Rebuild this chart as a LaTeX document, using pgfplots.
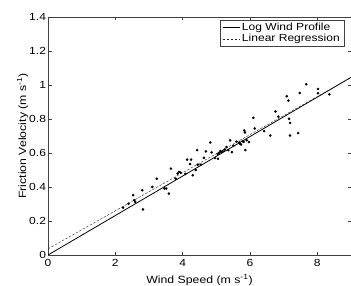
\documentclass[border=0pt]{standalone}
\usepackage{fontspec}
\setmainfont{Liberation Sans}[FakeStretch=1.17]
\usepackage{pgfplots}
\pgfplotsset{compat=1.18}
\begin{document}
\begin{tikzpicture}
\begin{axis}[
  scale only axis,
  width=303pt, height=238pt,
  xmin=0, xmax=9, ymin=0, ymax=1.4,
  xtick={0,2,4,6,8},
  ytick={0,0.2,0.4,0.6,0.8,1,1.2,1.4},
  tick align=inside,
  major tick length=3.5pt,
  axis line style={line width=0.5pt, black!75},
  tick style={line width=0.4pt, black!75},
  /pgf/number format/assume math mode=true,
  ticklabel style={font=\fontsize{10.3}{12}\selectfont},
  yticklabel style={xshift=1.5pt},
  xticklabel style={yshift=-0.5pt},
  xlabel={Wind Speed (m s\textsuperscript{-1})},
  ylabel={Friction Velocity (m s\textsuperscript{-1})},
  label style={font=\fontsize{10.5}{12}\selectfont},
  xlabel style={yshift=-3.5pt, inner ysep=1pt},
  ylabel style={yshift=-6pt},
  legend style={at={(0.977,0.987)}, anchor=north east, draw=black!75, line width=0.5pt,
    font=\fontsize{10.3}{12}\selectfont, inner xsep=2pt, inner ysep=1pt, row sep=-2pt,
    legend cell align=left},
  legend image code/.code={\draw[#1] (0cm,0cm) -- (0.6cm,0cm);},
]
\addplot[black, line width=0.8pt] coordinates {(0,0) (9,1.045)};
\addlegendentry{Log Wind Profile}
\addplot[black!85, line width=0.4pt, dash pattern=on 2.5pt off 1.5pt] coordinates {(0,0.036) (9,1.044)};
\addlegendentry{Linear Regression}
\addplot[only marks, mark=*, mark size=1.1pt, black, forget plot] coordinates {
(2.23,0.279) (2.39,0.301) (2.53,0.352) (2.56,0.322) (2.59,0.312) (2.80,0.381)
(2.82,0.268) (3.10,0.400) (3.23,0.449) (3.46,0.391) (3.51,0.391) (3.59,0.361)
(3.65,0.508) (3.79,0.449) (3.85,0.479) (3.89,0.488) (3.94,0.484) (4.08,0.477)
(4.13,0.561) (4.25,0.561) (4.22,0.535) (4.30,0.469) (4.39,0.500) (4.43,0.617)
(4.45,0.531) (4.54,0.531) (4.63,0.572) (4.69,0.609) (4.82,0.662) (4.86,0.604)
(4.96,0.570) (5.04,0.594) (5.05,0.566) (5.12,0.611) (5.19,0.611) (5.30,0.635)
(5.36,0.617) (5.41,0.674) (5.46,0.605) (5.51,0.643) (5.60,0.666) (5.68,0.662)
(5.73,0.650) (5.81,0.666) (5.83,0.732) (5.85,0.721) (5.86,0.617) (5.97,0.664)
(6.10,0.807) (6.14,0.744) (6.42,0.729) (6.60,0.703) (6.76,0.844) (6.84,0.814)
(7.09,0.934) (7.14,0.908) (7.16,0.801) (7.19,0.777) (7.19,0.703) (7.43,0.717)
(7.48,0.953) (7.67,1.004) (8.02,0.977) (8.02,0.951) (8.36,0.945)
(5.08,0.600) (5.15,0.605) (5.25,0.620) (5.70,0.655) (5.78,0.670) (5.90,0.675)
};
\end{axis}
\pgfresetboundingbox
\path (current axis.south west) ++(-48pt,-30pt) coordinate (bl);
\path (current axis.north east) ++(0pt,17pt) coordinate (tr);
\useasboundingbox (bl) rectangle (tr);
\end{tikzpicture}
\end{document}
